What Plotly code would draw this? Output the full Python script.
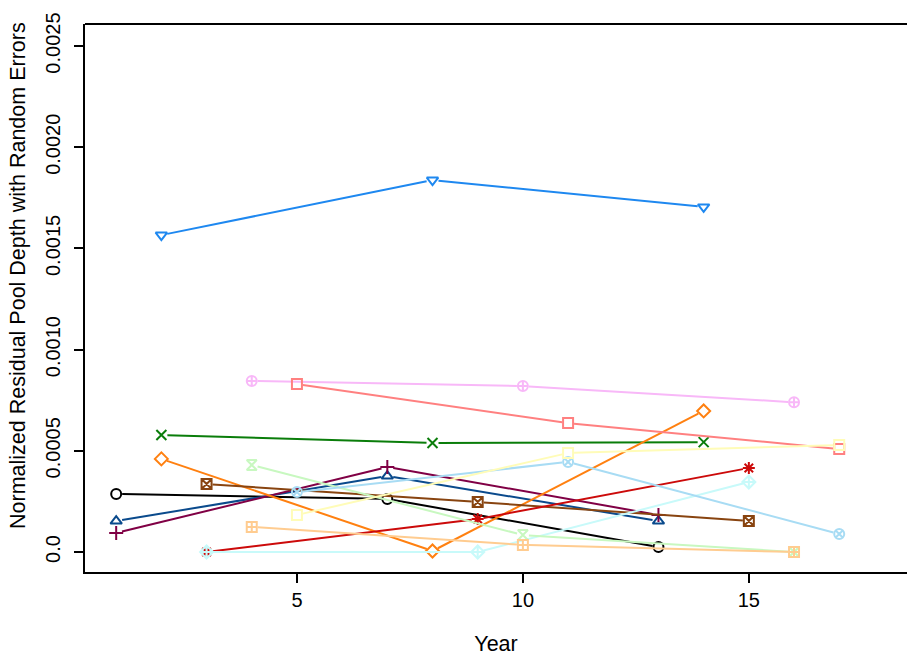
import math
import plotly.graph_objects as go

# Observation years for each site (three surveys per site)
years = [
    [1, 7, 13],
    [1, 7, 13],
    [1, 7, 13],
    [2, 8, 14],
    [2, 8, 14],
    [2, 8, 14],
    [3, 9, 15],
    [3, 9, 15],
    [3, 9, 15],
    [4, 10, 16],
    [4, 10, 16],
    [4, 10, 16],
    [5, 11, 17],
    [5, 11, 17],
    [5, 11, 17],
]

# Normalized residual pool depth with random errors
depth = [
    [0.000287, 0.000262, 0.000025],
    [0.000153, 0.000375, 0.000153],
    [0.000094, 0.000420, 0.000183],
    [0.001566, 0.001838, 0.001705],
    [0.000578, 0.000539, 0.000543],
    [0.000460, 0.000005, 0.000697],
    [0.000336, 0.000247, 0.000153],
    [0.000000, 0.000163, 0.000415],
    [0.000000, 0.000000, 0.000346],
    [0.000845, 0.000820, 0.000740],
    [0.000430, 0.000084, 0.000000],
    [0.000124, 0.000035, 0.000000],
    [0.000830, 0.000637, 0.000509],
    [0.000296, 0.000445, 0.000089],
    [0.000183, 0.000489, 0.000529],
]

colors = [
    "#000000", "#0A4A8C", "#800045", "#1E88F0", "#0A7D0A",
    "#FF8010", "#884410", "#CC0A0A", "#C8FAFA", "#F8B8F8",
    "#C8F8C0", "#FFCC90", "#FF8080", "#A8DCF4", "#FFFCB8",
]

symbols = [
    "circle-open", "triangle-up-open", "cross-thin-open", "triangle-down-open",
    "x-thin-open", "diamond-open", "square-x-open", "asterisk-open",
    "diamond-cross-open", "circle-cross-open", "hourglass-open",
    "square-cross-open", "square-open", "circle-x-open", "square-open",
]

y_ticks = [0.0, 0.0005, 0.0010, 0.0015, 0.0020, 0.0025]
y_tick_labels = ["0.0", "0.0005", "0.0010", "0.0015", "0.0020", "0.0025"]
x_ticks = [5, 10, 15]

# Plot geometry
W, H = 907, 660
M_L, M_R, M_T, M_B = 85, 0, 24, 88
X_RANGE = [0.31, 18.5]
Y_RANGE = [-0.0000988, 0.002609]
px_x = (W - M_L - M_R) / (X_RANGE[1] - X_RANGE[0])
px_y = (H - M_T - M_B) / (Y_RANGE[1] - Y_RANGE[0])
GAP = 6  # pixels left blank around each point ("both" style)


def gapped_segments(xs, ys):
    """Connect consecutive points, leaving a small gap around each marker."""
    gx, gy = [], []
    for (x0, y0), (x1, y1) in zip(zip(xs, ys), zip(xs[1:], ys[1:])):
        dx, dy = (x1 - x0) * px_x, (y1 - y0) * px_y
        length = math.hypot(dx, dy)
        if length <= 2 * GAP:
            continue
        f = GAP / length
        gx += [x0 + (x1 - x0) * f, x1 - (x1 - x0) * f, None]
        gy += [y0 + (y1 - y0) * f, y1 - (y1 - y0) * f, None]
    return gx, gy


fig = go.Figure()
for yr, val, col, sym in zip(years, depth, colors, symbols):
    lx, ly = gapped_segments(yr, val)
    fig.add_trace(go.Scatter(
        x=lx, y=ly, mode="lines", line=dict(color=col, width=2),
        showlegend=False, hoverinfo="skip",
    ))
    fig.add_trace(go.Scatter(
        x=yr, y=val, mode="markers",
        marker=dict(symbol=sym, size=10, color=col,
                    line=dict(color=col, width=2)),
        showlegend=False, hoverinfo="x+y",
    ))

family = "Liberation Sans, Arial, sans-serif"
tick_font = dict(family=family, size=20, color="#000000")
title_font = dict(family=family, size=21.5, color="#000000")

fig.update_layout(
    width=W, height=H,
    margin=dict(l=M_L, r=M_R, t=M_T, b=M_B),
    plot_bgcolor="white", paper_bgcolor="white",
    font=tick_font,
    xaxis=dict(
        range=X_RANGE, tickvals=x_ticks, ticks="outside",
        ticklen=9, tickwidth=2, tickcolor="black",
        showline=True, linecolor="black", linewidth=2,
        showgrid=False, zeroline=False,
        title=dict(text="Year", standoff=26, font=title_font),
        tickfont=tick_font,
    ),
    yaxis=dict(
        range=Y_RANGE, tickvals=y_ticks, ticktext=y_tick_labels,
        ticks="outside", ticklen=9, tickwidth=2, tickcolor="black",
        tickangle=-90, ticklabelstandoff=6,
        showline=True, linecolor="black", linewidth=2,
        showgrid=False, zeroline=False,
        tickfont=tick_font,
    ),
    shapes=[dict(type="line", xref="paper", yref="paper",
                 x0=0, x1=1.05, y0=1, y1=1,
                 line=dict(color="black", width=2))],
    annotations=[dict(
        text="Normalized Residual Pool Depth with Random Errors",
        xref="paper", yref="paper", x=(18 - M_L) / (W - M_L - M_R),
        y=(H - M_B - 276) / (H - M_T - M_B),
        xanchor="center", yanchor="middle", textangle=-90,
        showarrow=False, font=title_font,
    )],
)

fig.write_html("out.html")
